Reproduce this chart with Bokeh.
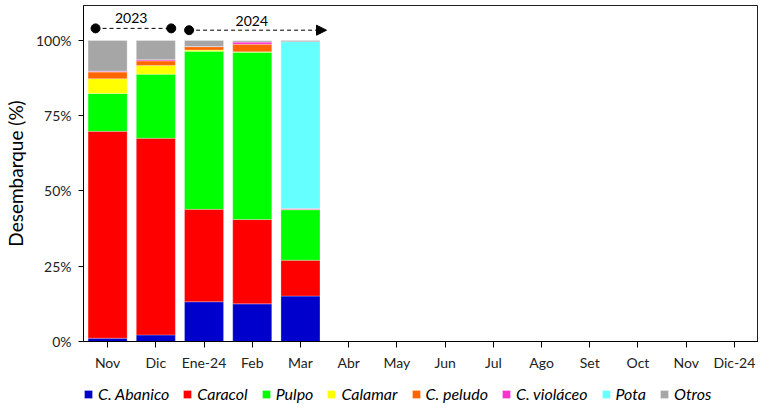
from bokeh.plotting import figure
from bokeh.layouts import column
from bokeh.models import ColumnDataSource, Range1d, FixedTicker, Legend, LegendItem, Label, Arrow, NormalHead
from bokeh.embed import file_html
from bokeh.resources import INLINE

# ---- data ----
month_labels = ["Nov", "Dic", "Ene-24", "Feb", "Mar", "Abr", "May", "Jun",
                "Jul", "Ago", "Set", "Oct", "Nov", "Dic-24"]
data_months = ["Nov", "Dic", "Ene-24", "Feb", "Mar"]
species = ["C. Abanico", "Caracol", "Pulpo", "Calamar", "C. peludo",
           "C. violáceo", "Pota", "Otros"]
abanico = [1.1, 2.2, 13.2, 12.5, 15.1]
caracol = [68.7, 65.3, 30.7, 28.0, 11.9]
pulpo = [12.6, 21.3, 52.5, 55.6, 16.8]
calamar = [4.9, 2.9, 0.4, 0.1, 0.0]
peludo = [2.2, 1.5, 1.1, 2.5, 0.1]
violaceo = [0.3, 0.4, 0.1, 0.8, 0.3]
pota = [0.0, 0.0, 0.0, 0.0, 55.4]
otros = [10.2, 6.4, 2.0, 0.4, 0.4]
colors = ["#0000CC", "#FF0000", "#00FF00", "#FFFF00", "#FF6600",
          "#FF33CC", "#66FFFF", "#A6A6A6"]
y_ticks = [0, 25, 50, 75, 100]
y_tick_labels = ["0%", "25%", "50%", "75%", "100%"]

# period annotations (x in category units, y in %)
p2023_x = [-0.25, 1.32]
p2024_x = [1.69, 4.54]
p2023_y = 104.0
p2024_y = 103.4
label_2023 = (0.49, 107.4, "2023")
label_2024 = (2.99, 106.6, "2024")

FONT = "Lato"

keys = ["s%d" % i for i in range(len(species))]
series = [abanico, caracol, pulpo, calamar, peludo, violaceo, pota, otros]
src = ColumnDataSource(dict(x=list(range(len(data_months))),
                            **{k: v for k, v in zip(keys, series)}))

p = figure(width=758, height=380, output_backend="svg", toolbar_location=None,
           x_range=Range1d(-0.5, len(month_labels) - 0.5),
           y_range=Range1d(0, 111.6),
           min_border_left=73, min_border_right=0, min_border_top=5,
           min_border_bottom=39)
p.xgrid.visible = False
p.ygrid.visible = False
p.outline_line_color = "#202020"
p.outline_line_width = 1

p.vbar_stack(keys, x="x", width=0.81, color=colors, source=src,
             line_color="white", line_alpha=0.35, line_width=0.8)

# axes
p.xaxis.ticker = FixedTicker(ticks=list(range(len(month_labels))))
p.xaxis.major_label_overrides = {i: m for i, m in enumerate(month_labels)}
p.yaxis.ticker = FixedTicker(ticks=y_ticks)
p.yaxis.major_label_overrides = {t: l for t, l in zip(y_ticks, y_tick_labels)}
for ax in (p.xaxis, p.yaxis):
    ax.axis_line_color = "black"
    ax.major_tick_line_color = "black"
    ax.minor_tick_line_color = None
    ax.major_tick_in = 0
    ax.major_tick_out = 5
    ax.major_label_text_font = FONT
    ax.major_label_text_font_size = "14px"
    ax.major_label_text_color = "#222222"
p.xaxis.major_tick_out = 6
p.xaxis.major_label_standoff = 6
p.yaxis.major_label_standoff = 7
p.yaxis.axis_label = "Desembarque (%)"
p.yaxis.axis_label_text_font = FONT
p.yaxis.axis_label_text_font_size = "19px"
p.yaxis.axis_label_text_font_style = "normal"
p.yaxis.axis_label_text_color = "black"
p.yaxis.axis_label_standoff = 6

# period markers
p.segment(x0=[p2023_x[0]], y0=[p2023_y], x1=[p2023_x[1]], y1=[p2023_y],
          line_color="black", line_dash="4 3", line_width=1)
p.scatter(x=p2023_x, y=[p2023_y] * 2, size=9, color="black")
p.scatter(x=[p2024_x[0]], y=[p2024_y], size=9, color="black")
p.add_layout(Arrow(x_start=p2024_x[0], y_start=p2024_y, x_end=p2024_x[1], y_end=p2024_y,
                   line_color="black", line_dash="4 3", line_width=1,
                   end=NormalHead(size=10, fill_color="black", line_color="black")))
for lx, ly, lt in (label_2023, label_2024):
    p.add_layout(Label(x=lx, y=ly, text=lt, text_align="center", text_baseline="middle",
                       text_font=FONT, text_font_size="14px", text_color="black"))

# legend strip: a small figure beneath, with the same series drawn out of view
leg = figure(width=758, height=25, output_backend="svg", toolbar_location=None,
             x_range=Range1d(-0.5, len(month_labels) - 0.5),
             y_range=Range1d(500, 600),
             min_border_left=0, min_border_right=0, min_border_top=0,
             min_border_bottom=0)
leg.axis.visible = False
leg.xgrid.visible = False
leg.ygrid.visible = False
leg.outline_line_color = None
lrs = leg.vbar_stack(keys, x="x", width=0.81, color=colors, source=src,
                     line_color="white", line_alpha=0.35, line_width=0.8)
legend = Legend(items=[LegendItem(label=n, renderers=[r]) for n, r in zip(species, lrs)],
                orientation="horizontal", location=(0, 2),
                label_text_font=FONT, label_text_font_size="16px",
                label_text_font_style="italic", label_text_color="black",
                glyph_width=10, glyph_height=10, label_standoff=5, spacing=13,
                padding=0, margin=0, border_line_color=None,
                background_fill_alpha=0)
leg.add_layout(legend)

open("out.html", "w").write(file_html(column(p, leg, spacing=0), INLINE))
